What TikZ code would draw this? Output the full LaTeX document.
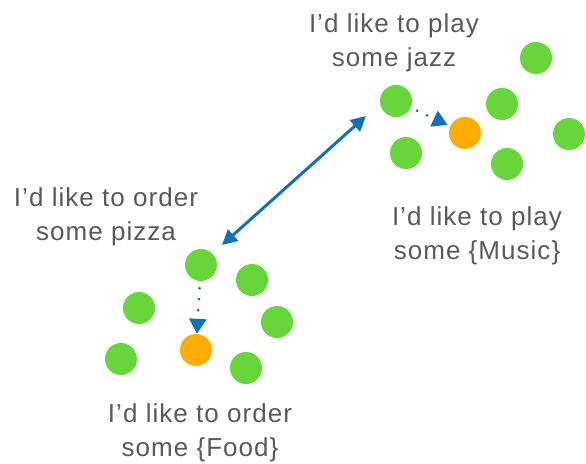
\documentclass[tikz,border=0pt]{standalone}
\usepackage{fontspec}
\setmainfont{Liberation Sans}[LetterSpace=4]
\usetikzlibrary{arrows.meta}
\definecolor{dotgreen}{HTML}{66D63A}
\definecolor{dotorange}{HTML}{FFAD00}
\definecolor{arrblue}{HTML}{0F71B8}
\definecolor{txtgray}{HTML}{595959}
\tikzset{
  x=1pt,y=-1pt,
  gdot/.style={circle,fill=dotgreen,minimum size=32pt,inner sep=0pt},
  odot/.style={circle,fill=dotorange,minimum size=32pt,inner sep=0pt},
  lbl/.style={text=txtgray,font=\fontsize{26}{34}\selectfont,align=center,anchor=base,inner sep=0pt},
  dblarrow/.style={draw=arrblue,line width=3pt,{Triangle[length=15pt,width=15pt]}-{Triangle[length=15pt,width=15pt]}},
  dotarrow/.style={draw=arrblue,line width=3pt,line cap=round,dash pattern=on 0pt off 11pt,-{Triangle[length=15pt,width=17pt]}}
}
\begin{document}
\begin{tikzpicture}
\useasboundingbox (0,0) rectangle (586,463);
% top cluster
\node[gdot] (jazz) at (396,101) {};
\node[gdot] (t2) at (536,58) {};
\node[gdot] (t3) at (502,104) {};
\node[gdot] (t4) at (569,134) {};
\node[gdot] (t5) at (406,153) {};
\node[gdot] (t6) at (507,164) {};
\node[odot] (music) at (465,133) {};
% bottom cluster
\node[gdot] (pizza) at (201,265) {};
\node[gdot] (b2) at (252,280) {};
\node[gdot] (b3) at (139,308) {};
\node[gdot] (b4) at (277,322) {};
\node[gdot] (b5) at (121,359) {};
\node[gdot] (b6) at (246,368) {};
\node[odot] (food) at (196,350) {};
% labels (anchor = baseline of the last line)
\node[lbl] (ljazz) at (394,66) {I’d like to play\\some jazz};
\node[lbl] (lpizza) at (106,240) {I’d like to order\\some pizza};
\node[lbl] (lmusic) at (477,259) {I’d like to play\\some \{Music\}};
\node[lbl] (lfood) at (200,456) {I’d like to order\\some \{Food\}};
% arrows
\coordinate (pe) at (222,245);
\coordinate (je) at (366,116);
\draw[dblarrow] (pe) -- (je);
\draw[dotarrow,shorten <=7pt,shorten >=3pt] (jazz) -- (music);
\draw[dotarrow,shorten <=7pt,shorten >=0pt] (pizza) -- (food);
\end{tikzpicture}
\end{document}
